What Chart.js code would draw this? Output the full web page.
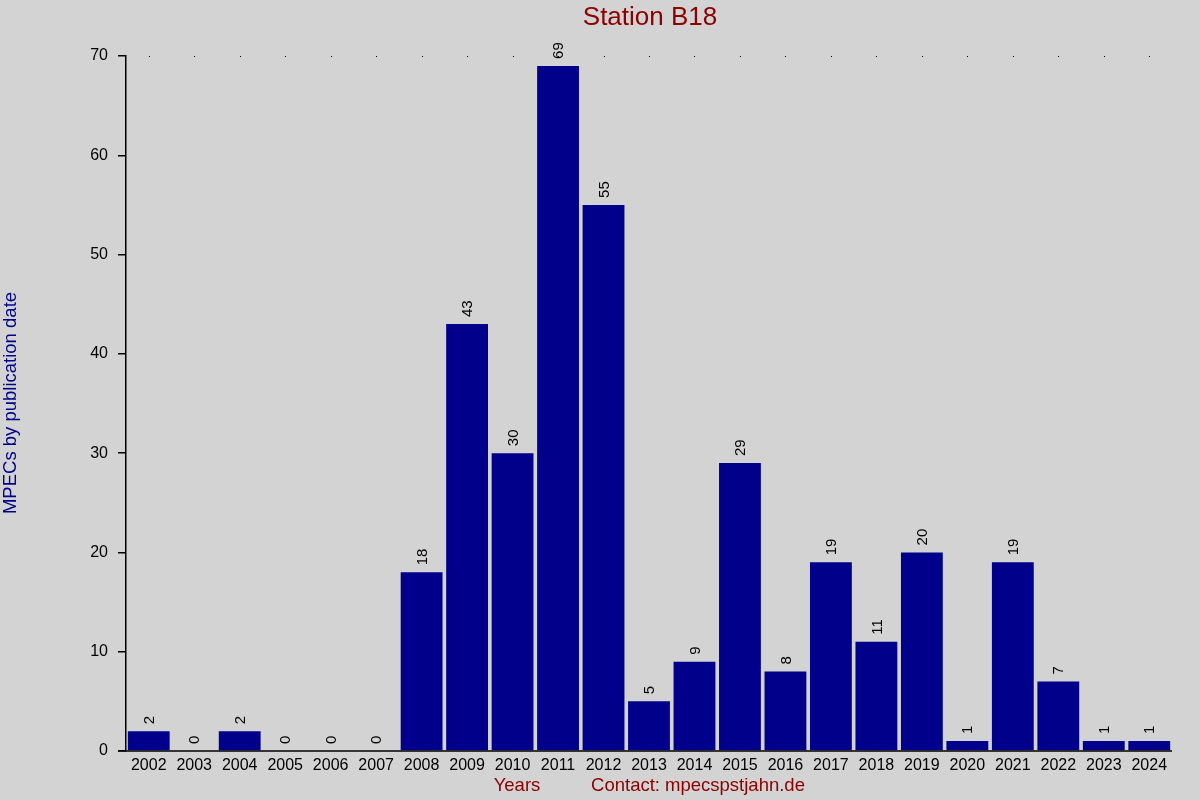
<!DOCTYPE html>
<html>
<head>
<meta charset="utf-8">
<script src="https://cdn.jsdelivr.net/npm/chart.js@4.4.1/dist/chart.umd.min.js"></script>
<style>
  html, body { margin: 0; padding: 0; background: #d3d3d3; }
  #wrap { width: 1200px; height: 800px; }
</style>
</head>
<body>
<div id="wrap"><canvas id="c" width="1200" height="800"></canvas></div>
<script>
// MPECs per year for station B18
const years = ['2002', '2003', '2004', '2005', '2006', '2007', '2008', '2009', '2010', '2011', '2012', '2013',
  '2014', '2015', '2016', '2017', '2018', '2019', '2020', '2021', '2022', '2023', '2024'];
const mpecs = [2, 0, 2, 0, 0, 0, 18, 43, 30, 69, 55, 5, 9, 29, 8, 19, 11, 20, 1, 19, 7, 1, 1];
const yTicks = [0, 10, 20, 30, 40, 50, 60, 70];

const FONT = "'Liberation Sans', Arial, sans-serif";
const DARKRED = '#8b0000';
const NAVY = '#00008b';

// texte autour du graphe + valeurs verticales au-dessus des barres
const decor = {
  id: 'decor',
  afterDraw(chart) {
    const ctx = chart.ctx;
    const xs = chart.scales.x, ys = chart.scales.y;
    const area = chart.chartArea;
    ctx.save();

    // petits points en haut de chaque colonne
    ctx.fillStyle = '#000';
    years.forEach((_, i) => {
      ctx.fillRect(Math.round(xs.getPixelForValue(i)), Math.round(area.top), 1, 1);
    });

    // prolongement de l'axe x vers la gauche
    ctx.strokeStyle = '#000';
    ctx.lineWidth = 1.5;
    ctx.beginPath();
    ctx.moveTo(area.left - 8, ys.getPixelForValue(0));
    ctx.lineTo(area.right, ys.getPixelForValue(0));
    ctx.stroke();

    // valeurs
    ctx.font = '15px ' + FONT;
    ctx.fillStyle = '#000';
    ctx.textAlign = 'left';
    ctx.textBaseline = 'middle';
    mpecs.forEach((v, i) => {
      const x = xs.getPixelForValue(i) + 1;
      const y = ys.getPixelForValue(v) - 7;
      ctx.save();
      ctx.translate(x, y);
      ctx.rotate(-Math.PI / 2);
      ctx.fillText(String(v), 0, 0);
      ctx.restore();
    });

    // titre
    ctx.font = '26px ' + FONT;
    ctx.fillStyle = DARKRED;
    ctx.textAlign = 'center';
    ctx.textBaseline = 'middle';
    ctx.fillText('Station B18', 650, 18);

    // bas de page
    ctx.font = '18.5px ' + FONT;
    ctx.fillText('Years', 517, 786);
    ctx.fillText('Contact: mpecspstjahn.de', 698, 786);

    // titre axe y
    ctx.fillStyle = NAVY;
    ctx.translate(11, 403);
    ctx.rotate(-Math.PI / 2);
    ctx.fillText('MPECs by publication date', 0, 0);
    ctx.restore();
  }
};

new Chart(document.getElementById('c'), {
  type: 'bar',
  data: {
    labels: years,
    datasets: [{
      data: mpecs,
      backgroundColor: NAVY,
      borderWidth: 0,
      categoryPercentage: 1,
      barPercentage: 0.92,
    }],
  },
  options: {
    responsive: false,
    animation: false,
    devicePixelRatio: 1,
    layout: { padding: { left: 60, top: 56, right: 28, bottom: 0 } },
    plugins: { legend: { display: false }, tooltip: { enabled: false }, title: { display: false } },
    scales: {
      x: {
        grid: { display: false },
        border: { display: false },
        ticks: { color: '#000', font: { family: FONT, size: 16 }, maxRotation: 0, autoSkip: false, padding: -3 },
        afterFit(s) { s.height = 49; },
      },
      y: {
        min: 0,
        max: 70,
        afterBuildTicks(s) { s.ticks = yTicks.map(v => ({ value: v })); },
        grid: { drawOnChartArea: false, drawTicks: true, tickLength: 8, color: '#000', lineWidth: 1.5 },
        border: { display: true, color: '#000', width: 1.5 },
        ticks: { color: '#000', font: { family: FONT, size: 16 }, padding: 10 },
        afterFit(s) { s.width = 66; },
      },
    },
  },
  plugins: [decor],
});
</script>
</body>
</html>
